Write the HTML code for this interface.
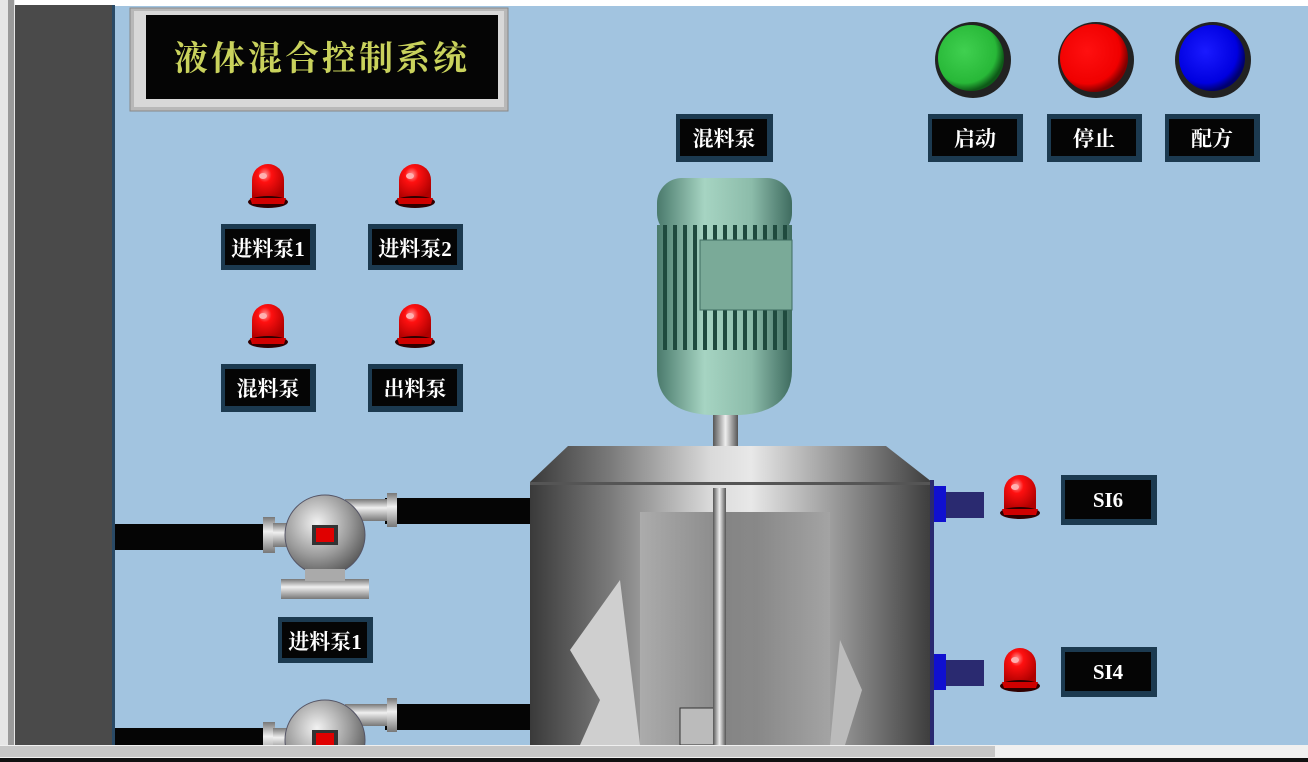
<!DOCTYPE html>
<html><head><meta charset="utf-8"><style>
html,body{margin:0;padding:0;width:1308px;height:762px;overflow:hidden;background:#a2c4e0}
svg{display:block;overflow:hidden}
text{font-family:"Liberation Serif","Noto Serif CJK SC",serif;font-weight:bold}
</style></head><body>
<svg width="1308" height="762" viewBox="0 0 1308 762" xmlns="http://www.w3.org/2000/svg">
<defs>
<clipPath id="cl"><rect x="0" y="0" width="1308" height="745"/></clipPath>
<linearGradient id="tank" x1="0" x2="1" y1="0" y2="0">
<stop offset="0" stop-color="#3a3a3a"/><stop offset="0.2" stop-color="#7a7a7a"/><stop offset="0.45" stop-color="#dadada"/><stop offset="0.55" stop-color="#e8e8e8"/><stop offset="0.8" stop-color="#8a8a8a"/><stop offset="1" stop-color="#3c3c3c"/></linearGradient>
<linearGradient id="tankin" x1="0" x2="1" y1="0" y2="0">
<stop offset="0" stop-color="#bdbdbd"/><stop offset="0.45" stop-color="#3a3a3a"/><stop offset="0.6" stop-color="#3a3a3a"/><stop offset="1" stop-color="#a8a8a8"/></linearGradient>
<linearGradient id="motor" x1="0" x2="1" y1="0" y2="0">
<stop offset="0" stop-color="#4a7a6c"/><stop offset="0.35" stop-color="#a6d4c2"/><stop offset="0.7" stop-color="#8cbcaa"/><stop offset="1" stop-color="#3f6c60"/></linearGradient>
<linearGradient id="shaft" x1="0" x2="1"><stop offset="0" stop-color="#555"/><stop offset="0.5" stop-color="#eee"/><stop offset="1" stop-color="#555"/></linearGradient>
<radialGradient id="pump" cx="0.4" cy="0.35" r="0.7"><stop offset="0" stop-color="#f2f2f2"/><stop offset="0.6" stop-color="#999"/><stop offset="1" stop-color="#555"/></radialGradient>
<linearGradient id="pipeV" x1="0" x2="0" y1="0" y2="1"><stop offset="0" stop-color="#777"/><stop offset="0.4" stop-color="#f0f0f0"/><stop offset="1" stop-color="#777"/></linearGradient>
<radialGradient id="lamp" cx="0.4" cy="0.3" r="0.7"><stop offset="0" stop-color="#ff9a9a"/><stop offset="0.3" stop-color="#ff1010"/><stop offset="1" stop-color="#b00000"/></radialGradient>
<radialGradient id="gr" cx="0.4" cy="0.4" r="0.6"><stop offset="0" stop-color="#40d050"/><stop offset="0.8" stop-color="#28b838"/><stop offset="1" stop-color="#0e5a18"/></radialGradient>
<radialGradient id="rd" cx="0.4" cy="0.4" r="0.6"><stop offset="0" stop-color="#ff1010"/><stop offset="0.8" stop-color="#f00000"/><stop offset="1" stop-color="#800000"/></radialGradient>
<radialGradient id="bl" cx="0.4" cy="0.4" r="0.6"><stop offset="0" stop-color="#1a1aff"/><stop offset="0.8" stop-color="#0000e0"/><stop offset="1" stop-color="#000070"/></radialGradient>
<g id="sl">
<path d="M-16,14 L-16,-6 A16,16 0 0 1 16,-6 L16,14 Z" fill="url(#lamp)"/>
<ellipse cx="0" cy="16" rx="20" ry="6" fill="#300000"/>
<path d="M-18,12 L18,12 L16,18 L-16,18Z" fill="#d00000"/>
<ellipse cx="-5" cy="-10" rx="4" ry="3" fill="#ffb0b0"/>
</g>
<g id="pmp">
<rect x="-62" y="-18" width="12" height="36" fill="url(#pipeV)"/>
<rect x="-52" y="-12" width="20" height="24" fill="url(#pipeV)"/>
<rect x="20" y="-36" width="50" height="22" fill="url(#pipeV)"/>
<rect x="62" y="-42" width="10" height="34" fill="url(#pipeV)"/>
<circle cx="0" cy="0" r="40" fill="url(#pump)" stroke="#556" stroke-width="1"/>
<rect x="-13" y="-10" width="26" height="20" fill="#333"/>
<rect x="-9" y="-7" width="18" height="14" fill="#e00000"/>
<rect x="-44" y="44" width="88" height="20" fill="url(#pipeV)"/>
<rect x="-20" y="34" width="40" height="12" fill="#aaa"/>
</g>
</defs>

<rect x="0" y="0" width="1308" height="6" fill="#fff"/>
<rect x="0" y="0" width="15" height="762" fill="#e6e6e6"/>
<rect x="8" y="0" width="6" height="745" fill="#9a9a9a"/>
<rect x="15" y="5" width="99" height="740" fill="#4a4a4a"/>
<rect x="112" y="5" width="3" height="740" fill="#2a4a66"/>

<rect x="130" y="8" width="378" height="103" fill="#b8b8b8" stroke="#888"/>
<rect x="134" y="11" width="370" height="96" fill="#d8d8d8"/>
<rect x="146" y="15" width="352" height="84" fill="#050505"/>
<text x="322" y="70" font-size="34" fill="#c9d25c" text-anchor="middle" letter-spacing="3">液体混合控制系统</text>

<use href="#sl" x="268" y="186"/><use href="#sl" x="415" y="186"/>
<use href="#sl" x="268" y="326"/><use href="#sl" x="415" y="326"/>
<g font-size="21" fill="#fff" text-anchor="middle">
<rect x="221" y="224" width="95" height="46" fill="#1c3a50"/><rect x="225" y="229" width="85" height="36" fill="#050505"/><text x="268" y="256">进料泵1</text>
<rect x="368" y="224" width="95" height="46" fill="#1c3a50"/><rect x="372" y="229" width="85" height="36" fill="#050505"/><text x="415" y="256">进料泵2</text>
<rect x="221" y="364" width="95" height="48" fill="#1c3a50"/><rect x="225" y="369" width="85" height="37" fill="#050505"/><text x="268" y="396">混料泵</text>
<rect x="368" y="364" width="95" height="48" fill="#1c3a50"/><rect x="372" y="369" width="85" height="37" fill="#050505"/><text x="415" y="396">出料泵</text>
<rect x="278" y="617" width="95" height="46" fill="#1c3a50"/><rect x="282" y="622" width="85" height="36" fill="#050505"/><text x="325" y="649">进料泵1</text>
<rect x="676" y="114" width="97" height="48" fill="#1c3a50"/><rect x="680" y="119" width="87" height="37" fill="#050505"/><text x="724" y="146">混料泵</text>
<rect x="928" y="114" width="95" height="48" fill="#1c3a50"/><rect x="932" y="119" width="85" height="37" fill="#050505"/><text x="975" y="146">启动</text>
<rect x="1047" y="114" width="95" height="48" fill="#1c3a50"/><rect x="1051" y="119" width="85" height="37" fill="#050505"/><text x="1094" y="146">停止</text>
<rect x="1165" y="114" width="95" height="48" fill="#1c3a50"/><rect x="1169" y="119" width="85" height="37" fill="#050505"/><text x="1212" y="146">配方</text>
<rect x="1061" y="475" width="96" height="50" fill="#1c3a50"/><rect x="1065" y="480" width="86" height="39" fill="#050505"/><text x="1108" y="507" font-family="Liberation Serif">SI6</text>
<rect x="1061" y="647" width="96" height="50" fill="#1c3a50"/><rect x="1065" y="652" width="86" height="39" fill="#050505"/><text x="1108" y="679" font-family="Liberation Serif">SI4</text>
</g>

<circle cx="973" cy="60" r="38" fill="#222"/><circle cx="971" cy="58" r="33" fill="url(#gr)"/>
<circle cx="1096" cy="60" r="38" fill="#222"/><circle cx="1094" cy="58" r="34" fill="url(#rd)"/>
<circle cx="1213" cy="60" r="38" fill="#222"/><circle cx="1212" cy="58" r="33" fill="url(#bl)"/>

<g clip-path="url(#cl)">
<rect x="115" y="524" width="160" height="26" fill="#050505"/>
<rect x="385" y="498" width="146" height="26" fill="#050505"/>
<rect x="115" y="728" width="160" height="17" fill="#050505"/>
<rect x="385" y="704" width="146" height="26" fill="#050505"/>
<use href="#pmp" x="325" y="535"/>
<use href="#pmp" x="325" y="740"/>

<rect x="657" y="178" width="135" height="60" rx="25" fill="url(#motor)"/>
<rect x="657" y="225" width="135" height="130" fill="url(#motor)"/>
<g stroke="#1f4a3e" stroke-width="4">
<line x1="665" y1="225" x2="665" y2="355"/><line x1="675" y1="225" x2="675" y2="355"/><line x1="685" y1="225" x2="685" y2="355"/><line x1="695" y1="225" x2="695" y2="355"/><line x1="705" y1="225" x2="705" y2="355"/><line x1="715" y1="225" x2="715" y2="355"/><line x1="725" y1="225" x2="725" y2="355"/><line x1="735" y1="225" x2="735" y2="355"/><line x1="745" y1="225" x2="745" y2="355"/><line x1="755" y1="225" x2="755" y2="355"/><line x1="765" y1="225" x2="765" y2="355"/><line x1="775" y1="225" x2="775" y2="355"/><line x1="785" y1="225" x2="785" y2="355"/>
</g>
<rect x="700" y="240" width="92" height="70" fill="#7aaa98" stroke="#3f6c60"/>
<path d="M657,350 L792,350 L792,370 Q792,412 740,415 L710,415 Q657,412 657,370Z" fill="url(#motor)"/>
<rect x="713" y="415" width="25" height="34" fill="url(#shaft)"/>

<path d="M568,446 L886,446 L932,482 L932,745 L530,745 L530,482 Z" fill="url(#tank)"/>
<rect x="530" y="482" width="402" height="3" fill="#555"/>
<path d="M640,512 L830,512 L830,745 L640,745Z" fill="url(#tankin)" opacity="0.55"/>
<path d="M620,580 L570,650 L600,700 L580,745 L640,745Z" fill="#cfcfcf"/>
<path d="M840,640 L862,690 L845,745 L830,745Z" fill="#bbb"/>
<rect x="680" y="708" width="40" height="37" fill="#bbb" stroke="#333"/>
<rect x="713" y="488" width="13" height="257" fill="url(#shaft)"/>
<rect x="930" y="480" width="4" height="265" fill="#2a2a70"/>
</g>

<rect x="934" y="486" width="12" height="36" fill="#1010d0"/><rect x="946" y="492" width="38" height="26" fill="#2a2a70"/>
<rect x="934" y="654" width="12" height="36" fill="#1010d0"/><rect x="946" y="660" width="38" height="26" fill="#2a2a70"/>
<use href="#sl" x="1020" y="497"/><use href="#sl" x="1020" y="670"/>

<rect x="0" y="745" width="1308" height="13" fill="#f0f0f0"/>
<rect x="0" y="746" width="995" height="11" fill="#c6c6c6"/>
<rect x="0" y="758" width="1308" height="4" fill="#111"/>
</svg>
</body></html>
